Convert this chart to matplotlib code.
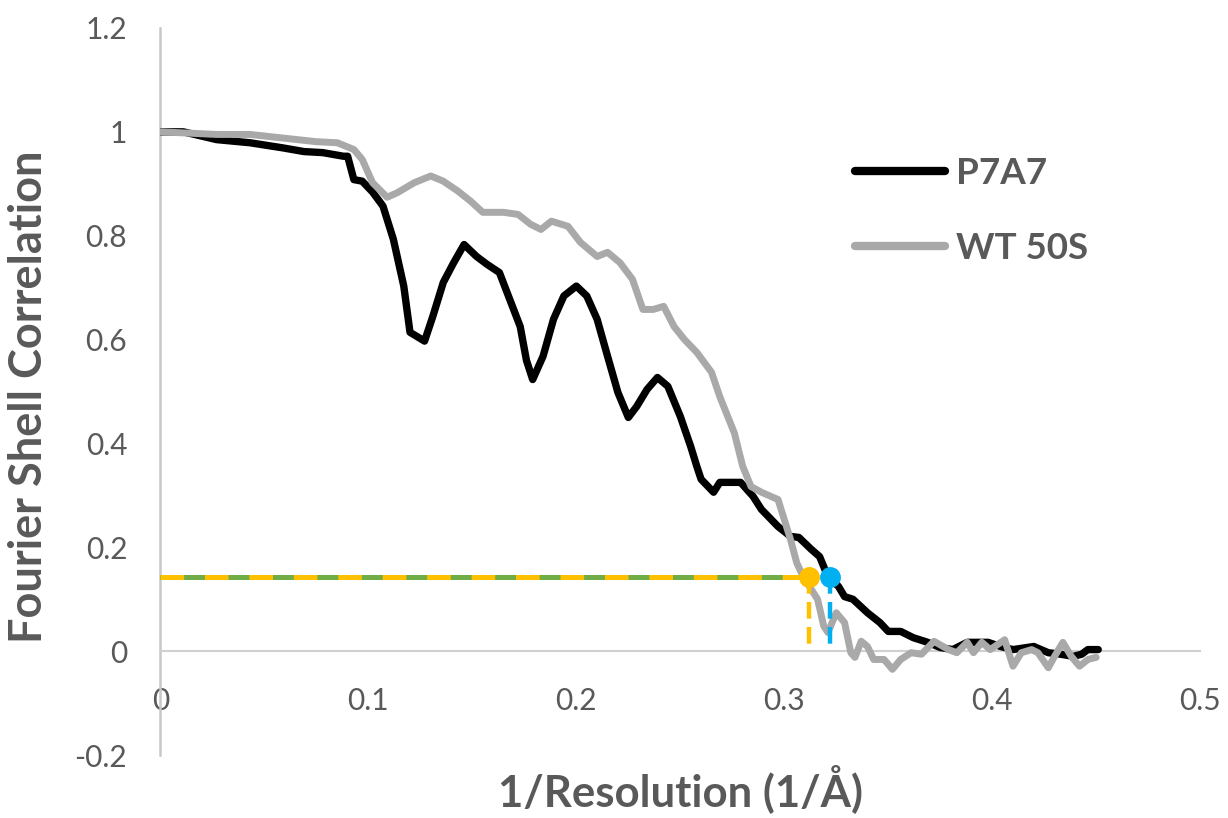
import numpy as np
import matplotlib
matplotlib.use('Agg')
import matplotlib.pyplot as plt

# FSC curves
p7a7_x = [0.000, 0.011, 0.027, 0.043, 0.059, 0.069, 0.078, 0.088, 0.090, 0.093,
          0.097, 0.102, 0.107, 0.112, 0.117, 0.120, 0.127, 0.131, 0.136, 0.141,
          0.146, 0.152, 0.157, 0.163, 0.168, 0.173, 0.176, 0.179, 0.184, 0.189,
          0.194, 0.200, 0.205, 0.210, 0.215, 0.220, 0.225, 0.229, 0.234, 0.239,
          0.244, 0.250, 0.255, 0.258, 0.260, 0.266, 0.269, 0.279, 0.285, 0.289,
          0.297, 0.303, 0.307, 0.313, 0.317, 0.321, 0.326, 0.329, 0.333, 0.340,
          0.346, 0.350, 0.356, 0.362, 0.369, 0.375, 0.381, 0.388, 0.398, 0.404,
          0.410, 0.420, 0.427, 0.433, 0.439, 0.443, 0.446, 0.451]
p7a7_y = [1.000, 1.000, 0.985, 0.979, 0.969, 0.962, 0.960, 0.953, 0.953, 0.908,
          0.905, 0.884, 0.857, 0.793, 0.703, 0.614, 0.597, 0.645, 0.710, 0.748,
          0.783, 0.760, 0.745, 0.729, 0.677, 0.625, 0.560, 0.523, 0.568, 0.639,
          0.684, 0.703, 0.684, 0.639, 0.568, 0.498, 0.450, 0.471, 0.504, 0.527,
          0.510, 0.452, 0.394, 0.355, 0.331, 0.306, 0.325, 0.325, 0.298, 0.273,
          0.240, 0.221, 0.219, 0.196, 0.182, 0.143, 0.125, 0.105, 0.100, 0.074,
          0.055, 0.038, 0.038, 0.026, 0.017, 0.007, 0.003, 0.017, 0.017, 0.009,
          0.003, 0.009, -0.003, -0.006, -0.010, -0.006, 0.003, 0.003]

wt_x = [0.000, 0.027, 0.043, 0.059, 0.075, 0.085, 0.093, 0.097, 0.102, 0.109,
        0.114, 0.122, 0.130, 0.136, 0.143, 0.149, 0.155, 0.165, 0.172, 0.178,
        0.183, 0.188, 0.196, 0.202, 0.210, 0.215, 0.221, 0.227, 0.232, 0.237,
        0.242, 0.247, 0.252, 0.258, 0.265, 0.269, 0.276, 0.280, 0.284, 0.289,
        0.297, 0.298, 0.303, 0.306, 0.309, 0.316, 0.319, 0.321, 0.325, 0.329,
        0.332, 0.334, 0.337, 0.340, 0.343, 0.348, 0.352, 0.356, 0.361, 0.366,
        0.372, 0.379, 0.383, 0.388, 0.391, 0.395, 0.399, 0.406, 0.410, 0.414,
        0.419, 0.422, 0.427, 0.430, 0.434, 0.438, 0.442, 0.446, 0.450]
wt_y = [1.000, 0.995, 0.995, 0.988, 0.981, 0.979, 0.966, 0.947, 0.902, 0.874,
        0.883, 0.902, 0.915, 0.905, 0.886, 0.867, 0.845, 0.845, 0.841, 0.822,
        0.812, 0.828, 0.818, 0.787, 0.760, 0.768, 0.748, 0.716, 0.658, 0.658,
        0.664, 0.625, 0.600, 0.575, 0.537, 0.490, 0.420, 0.356, 0.317, 0.306,
        0.292, 0.279, 0.215, 0.170, 0.144, 0.100, 0.048, 0.036, 0.074, 0.055,
        -0.003, -0.012, 0.019, 0.009, -0.016, -0.016, -0.035, -0.016, -0.003, -0.006,
        0.019, 0.003, -0.003, 0.017, -0.003, 0.017, 0.003, 0.022, -0.029, -0.003,
        0.003, -0.003, -0.032, -0.010, 0.017, -0.010, -0.029, -0.016, -0.012]

# 0.143 threshold and where each curve crosses it
threshold = 0.143
cross_wt = 0.312
cross_p7a7 = 0.322

text_gray = '#595959'
plt.rcParams['font.family'] = ['Lato', 'DejaVu Sans']
plt.rcParams['lines.scale_dashes'] = False

fig = plt.figure(figsize=(12.28, 8.18), dpi=100)
ax = fig.add_axes([0.1307, 0.0770, 0.8466, 0.8888])

ax.plot(p7a7_x, p7a7_y, color='black', lw=5.3, solid_joinstyle='round',
        solid_capstyle='round', label='P7A7', zorder=3)
ax.plot(wt_x, wt_y, color='#A9A9A9', lw=5.0, solid_joinstyle='round',
        solid_capstyle='round', label='WT 50S', zorder=4)

# threshold markers
ax.plot([0, cross_wt], [threshold, threshold], color='#70AD47', lw=3.6, zorder=5)
ax.plot([0, cross_wt], [threshold, threshold], color='#FFC000', lw=3.6,
        dashes=(17, 15), zorder=6)
ax.plot([cross_wt, cross_wt], [threshold, 0], color='#FFC000', lw=3.2, dashes=(12, 6), zorder=6)
ax.plot([cross_p7a7, cross_p7a7], [threshold, 0], color='#00B0F0', lw=3.2, dashes=(12, 6), zorder=6)
ax.plot([cross_wt], [threshold], 'o', color='#FFC000', ms=14, zorder=7)
ax.plot([cross_p7a7], [threshold], 'o', color='#00B0F0', ms=14, zorder=7)

ax.set_xlim(0, 0.5)
ax.set_ylim(-0.2, 1.2)
ax.set_xticks([0, 0.1, 0.2, 0.3, 0.4, 0.5])
ax.set_xticklabels(['0', '0.1', '0.2', '0.3', '0.4', '0.5'])
ax.set_yticks([-0.2, 0, 0.2, 0.4, 0.6, 0.8, 1.0, 1.2])
ax.set_yticklabels(['-0.2', '0', '0.2', '0.4', '0.6', '0.8', '1', '1.2'])

for s in ['top', 'right']:
    ax.spines[s].set_visible(False)
ax.spines['bottom'].set_position(('data', 0))
ax.spines['bottom'].set_color('#D0D0D0')
ax.spines['bottom'].set_linewidth(1.5)
ax.spines['left'].set_color('#C8C8C8')
ax.spines['left'].set_linewidth(1.8)
ax.tick_params(axis='both', length=0, labelsize=21.5, labelcolor=text_gray)
ax.tick_params(axis='x', pad=26)
ax.tick_params(axis='y', pad=24)

fig.text(0.024, 0.515, 'Fourier Shell Correlation', rotation=90, ha='center', va='center',
         fontsize=32.5, fontweight='bold', color=text_gray)
fig.text(0.554, 0.036, '1/Resolution (1/Å)', ha='center', va='center',
         fontsize=31.5, fontweight='bold', color=text_gray)

leg = ax.legend(loc='center left', bbox_to_anchor=(0.696, 0.742), bbox_transform=fig.transFigure,
                frameon=False, fontsize=26.5, handlelength=2.45, handletextpad=0.3,
                labelspacing=1.15, borderpad=0, borderaxespad=0)
for t in leg.get_texts():
    t.set_color(text_gray)
    t.set_fontweight('bold')
for h in leg.get_lines():
    h.set_linewidth(6)
    h.set_solid_capstyle('round')

fig.savefig('out.png', dpi=100)
